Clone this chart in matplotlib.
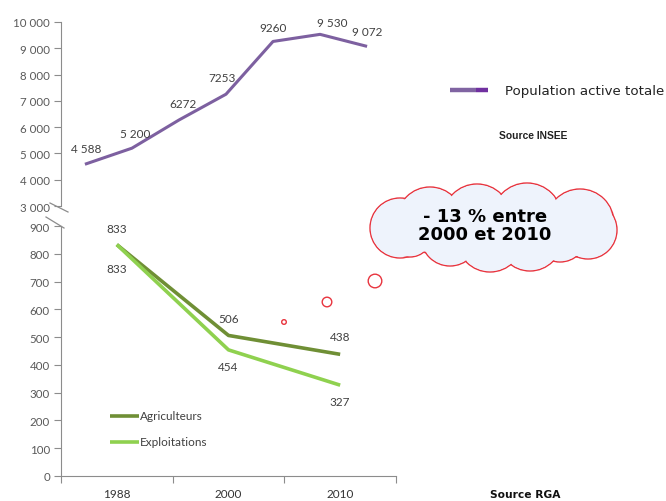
import matplotlib
matplotlib.use("Agg")
import matplotlib.pyplot as plt
from matplotlib.patches import Circle, Ellipse
import numpy as np

# ---- data ----
pop_values = [4588, 5200, 6272, 7253, 9260, 9530, 9072]
pop_labels = ["4 588", "5 200", "6272", "7253", "9260", "9 530", "9 072"]
years = ["1988", "2000", "2010"]
agriculteurs = [833, 506, 438]
exploitations = [833, 454, 327]
top_ticks = [3000, 4000, 5000, 6000, 7000, 8000, 9000, 10000]
top_ticklabels = ["3 000", "4 000", "5 000", "6 000", "7 000", "8 000", "9 000", "10 000"]
bottom_ticks = [0, 100, 200, 300, 400, 500, 600, 700, 800, 900]

W, H = 666, 502
fig = plt.figure(figsize=(W / 100, H / 100), dpi=100)

def fx(px):
    return px / W

def fy(py):
    return 1 - py / H

FONT = "Lato"
TICKC = "#595959"
SPINEC = "#8c8c8c"
LABC = "#404040"
PURPLE = "#7D60A0"
OLIVE = "#6F8F35"
LGREEN = "#8FD14F"

# ---- top axes (population) ----
axt = fig.add_axes([fx(61), fy(207), fx(396) - fx(61), fy(23) - fy(207)])
axt.set_ylim(3000, 10000)
axt.set_xlim(-0.509, 6.615)
xs_top = np.arange(len(pop_values))
axt.plot(xs_top, pop_values, color=PURPLE, lw=2.2, solid_capstyle="butt")
for sp in ["top", "right", "bottom"]:
    axt.spines[sp].set_visible(False)
axt.spines["left"].set_color(SPINEC)
axt.set_xticks([])
axt.set_yticks(top_ticks)
axt.set_yticklabels(top_ticklabels, fontfamily=FONT, fontsize=8.3, color=TICKC)
axt.tick_params(axis="y", length=5, color=SPINEC, pad=3)
offs = [(1, 10), (3, 9), (4, 11), (-4, 11), (0, 8), (12, 6), (0, 9)]
for x, v, lab, o in zip(xs_top, pop_values, pop_labels, offs):
    axt.annotate(lab, (x, v), xytext=o, textcoords="offset pixels",
                 ha="center", va="bottom", fontfamily=FONT, fontsize=8.5, color=LABC)
axt.patch.set_alpha(0)

# ---- bottom axes (agriculture) ----
axb = fig.add_axes([fx(61), fy(477), fx(396) - fx(61), fy(227) - fy(477)])
axb.set_ylim(0, 900)
axb.set_xlim(-0.5, 2.5)
xs = np.arange(len(years))
axb.plot(xs, agriculteurs, color=OLIVE, lw=2.6, solid_capstyle="butt")
axb.plot(xs, exploitations, color=LGREEN, lw=2.6, solid_capstyle="butt")
for sp in ["top", "right"]:
    axb.spines[sp].set_visible(False)
axb.spines["left"].set_color(SPINEC)
axb.spines["bottom"].set_color(SPINEC)
axb.set_yticks(bottom_ticks)
axb.set_yticklabels([str(t) for t in bottom_ticks], fontfamily=FONT, fontsize=8.3, color=TICKC)
axb.tick_params(axis="y", length=5, color=SPINEC, pad=3)
axb.set_xticks([-0.5, 0.5, 1.5, 2.5])
axb.set_xticklabels([])
axb.tick_params(axis="x", which="major", length=5, color=SPINEC)
axb.set_xticks(xs, minor=True)
axb.set_xticklabels(years, minor=True, fontfamily=FONT, fontsize=8.5, color="#333333")
axb.tick_params(axis="x", which="minor", length=0, pad=9)
axb.patch.set_alpha(0)

agri_off = [(0, 11), (0, 11), (0, 12)]
expl_off = [(0, -18), (0, -11), (0, -11)]
for x, v, o in zip(xs, agriculteurs, agri_off):
    axb.annotate(str(v), (x, v), xytext=o, textcoords="offset pixels",
                 ha="center", va="bottom", fontfamily=FONT, fontsize=8.5, color=LABC)
for x, v, o in zip(xs, exploitations, expl_off):
    axb.annotate(str(v), (x, v), xytext=o, textcoords="offset pixels",
                 ha="center", va="top", fontfamily=FONT, fontsize=8.5, color=LABC)

# ---- overlay (pixel coordinates) ----
ov = fig.add_axes([0, 0, 1, 1], zorder=5)
ov.set_xlim(0, W)
ov.set_ylim(H, 0)
ov.axis("off")
ov.patch.set_alpha(0)

# axis break marks
ov.plot([50, 68], [204, 213], color=SPINEC, lw=0.9)
ov.plot([46, 64], [218, 229], color=SPINEC, lw=0.9)

# green legend
ov.plot([110, 139], [417, 417], color=OLIVE, lw=2.6, solid_capstyle="butt")
ov.plot([110, 139], [443, 443], color=LGREEN, lw=2.6, solid_capstyle="butt")
ov.text(140, 417, "Agriculteurs", fontfamily=FONT, fontsize=8.5, color=LABC, va="center", ha="left")
ov.text(140, 443, "Exploitations", fontfamily=FONT, fontsize=8.5, color=LABC, va="center", ha="left")

# purple legend
ov.plot([450, 476], [91, 91], color="#8064A2", lw=3.2, solid_capstyle="butt")
ov.plot([476, 488], [91, 91], color="#7030A0", lw=3.2, solid_capstyle="butt")
ov.text(505, 91, "Population active totale", fontfamily="DejaVu Sans", fontsize=9.6,
        color="#222222", va="center", ha="left")

ov.text(533, 136, "Source INSEE", fontfamily="Liberation Sans", fontweight="bold",
        fontsize=7.4, color="#222222", va="center", ha="center")
ov.text(525, 495, "Source RGA", fontfamily="DejaVu Sans", fontweight="bold",
        fontsize=7.7, color="#111111", va="center", ha="center")

# thought bubbles
EDGE = "#E8343E"
FILL = "#EEF3FC"
for (cx, cy, r) in [(284, 323, 2.3), (327, 303, 4.8), (375, 282, 6.8)]:
    ov.add_patch(Circle((cx, cy), r, facecolor="white", edgecolor=EDGE, lw=1.0))

# cloud made of overlapping circles
bumps = [
    (400, 229, 30),
    (430, 221, 33), (477, 219, 34), (527, 219, 35), (580, 224, 34),
    (588, 231, 29),
    (560, 236, 27), (530, 240, 32), (490, 240, 33), (450, 238, 29), (410, 236, 22),
]
for (cx, cy, r) in bumps:
    ov.add_patch(Circle((cx, cy), r, facecolor=FILL, edgecolor=EDGE, lw=1.0))
for (cx, cy, r) in bumps:
    ov.add_patch(Circle((cx, cy), r - 0.9, facecolor=FILL, edgecolor="none"))
ov.add_patch(Ellipse((495, 228), 200, 50, facecolor=FILL, edgecolor="none"))

ov.text(485, 226, "- 13 % entre\n2000 et 2010", fontfamily="DejaVu Sans", fontweight="bold",
        fontsize=13, color="black", ha="center", va="center", linespacing=1.05)

fig.savefig("out.png", dpi=100)
